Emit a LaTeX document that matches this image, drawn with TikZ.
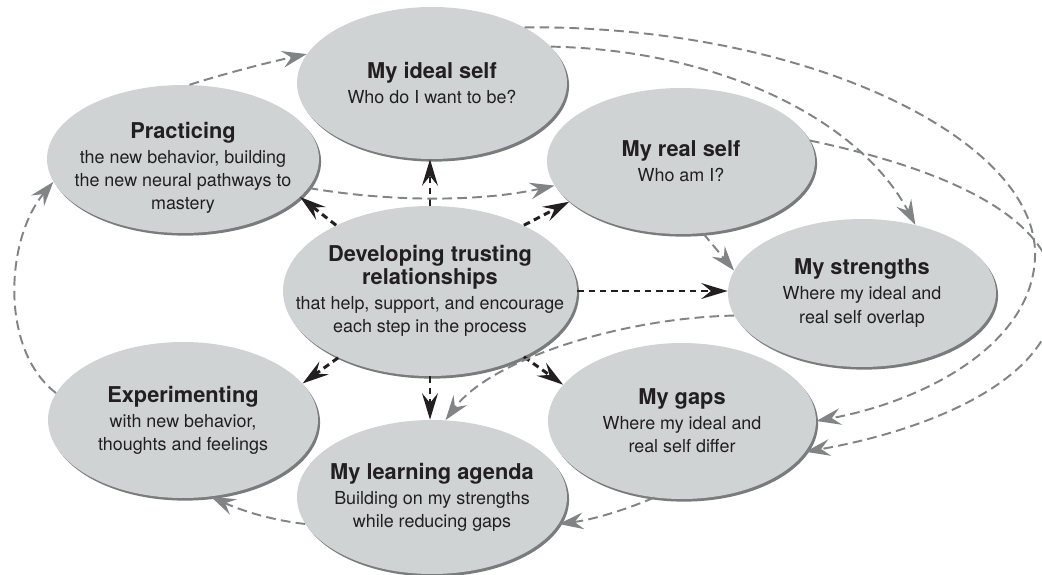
\documentclass[tikz,border=0pt]{standalone}
\usepackage{fontspec}
\setmainfont{TeX Gyre Heros}
\usepackage{xcolor}
\usetikzlibrary{shapes.geometric, arrows.meta, shadows}
\definecolor{ovalgray}{RGB}{207, 211, 212}
\definecolor{rimgray}{RGB}{120, 124, 125}
\definecolor{cyclegray}{RGB}{128, 132, 133}
\definecolor{inkblack}{RGB}{35, 31, 32}

\newcommand{\stagehead}[1]{{\fontsize{12.4}{13}\selectfont\bfseries #1}}

\tikzset{
  stage/.style={ellipse, fill=ovalgray, inner xsep=-20pt, inner ysep=0pt, align=center,
    text=inkblack, font=\fontsize{10.2}{13.2}\selectfont,
    drop shadow={shadow xshift=1.2pt, shadow yshift=-1.5pt, fill=rimgray, opacity=1}},
  supportarrow/.style={draw=inkblack, line width=1.7pt, dash pattern=on 3.8pt off 2.6pt,
    -{Stealth[length=15pt, width=9pt, inset=5.5pt]}},
  cyclearrow/.style={draw=cyclegray, line width=1.1pt, dash pattern=on 5.5pt off 3pt,
    -{Stealth[length=14pt, width=9.5pt, inset=5pt]}}
}

\begin{document}
\begin{tikzpicture}[x=0.02cm, y=-0.02cm]
  \path[use as bounding box, fill=white] (0,0) rectangle (1042,575);

  % the seven stages
  \node[stage, minimum width=5.4cm, minimum height=3.04cm] (ideal) at (432,83)
    {\stagehead{My ideal self}\\[1pt] Who do I want to be?};
  \node[stage, minimum width=5.44cm, minimum height=2.96cm,
        inner ysep=-3pt, text height=60pt, text depth=2pt] (prac) at (183,159)
    {\stagehead{Practicing}\\[1pt] the new behavior, building\\ the new neural pathways to\\ mastery};
  \node[stage, minimum width=5.36cm, minimum height=2.92cm] (real) at (681,161)
    {\stagehead{My real self}\\[1pt] Who am I?};
  \node[stage, minimum width=5.88cm, minimum height=3.4cm] (dev) at (430,291)
    {\stagehead{Developing trusting}\\ \stagehead{relationships}\\[1pt]
     that help, support, and encourage\\ each step in the process};
  \node[stage, minimum width=5.36cm, minimum height=2.96cm] (str) at (862,293)
    {\stagehead{My strengths}\\[1pt] Where my ideal and\\ real self overlap};
  \node[stage, minimum width=5.36cm, minimum height=3.12cm] (gaps) at (682,421)
    {\stagehead{My gaps}\\[1pt] Where my ideal and\\ real self differ};
  \node[stage, minimum width=5.4cm, minimum height=3.12cm] (exp) at (183,420)
    {\stagehead{Experimenting}\\[1pt] with new behavior,\\ thoughts and feelings};
  \node[stage, minimum width=5.4cm, minimum height=3.08cm] (agenda) at (432,497)
    {\stagehead{My learning agenda}\\[1pt] Building on my strengths\\ while reducing gaps};

  % relationships feed every stage
  \draw[supportarrow] (dev.north) -- (dev.north |- ideal.south);
  \draw[supportarrow] (dev.145) -- (prac.-18);
  \draw[supportarrow] (dev.35) -- (real.200);
  \draw[supportarrow] (dev.east) -- (dev.east -| str.west);
  \draw[supportarrow] (dev.216) -- (exp.17);
  \draw[supportarrow] (dev.south) -- (dev.south |- agenda.north);
  \draw[supportarrow] (dev.-35) -- (gaps.163);

  % the cycle
  \draw[cyclearrow] (prac.85) .. controls (230,72) and (270,62) .. (ideal.167);
  \draw[cyclearrow] (prac.-13) .. controls (390,202) and (480,202) .. (real.191);
  \draw[cyclearrow] (real.-73) -- (str.170);
  \draw[cyclearrow] (ideal.17) .. controls (720,50) and (860,120) .. (str.52);
  \draw[cyclearrow] (ideal.31) .. controls (800,25) and (1030,135) .. (1035,250)
    .. controls (1038,340) and (930,400) .. (gaps.0);
  \draw[cyclearrow] (real.9) .. controls (950,170) and (1060,220) .. (1055,300)
    .. controls (1050,380) and (930,430) .. (gaps.-14);
  \draw[cyclearrow] (str.190) .. controls (620,318) and (490,360) .. (agenda.80);
  \draw[cyclearrow] (gaps.250) .. controls (620,512) and (590,520) .. (agenda.-12);
  \draw[cyclearrow] (agenda.192) .. controls (270,520) and (240,510) .. (exp.-70);
  \draw[cyclearrow] (exp.168) .. controls (0,350) and (5,240) .. (prac.190);
\end{tikzpicture}
\end{document}
